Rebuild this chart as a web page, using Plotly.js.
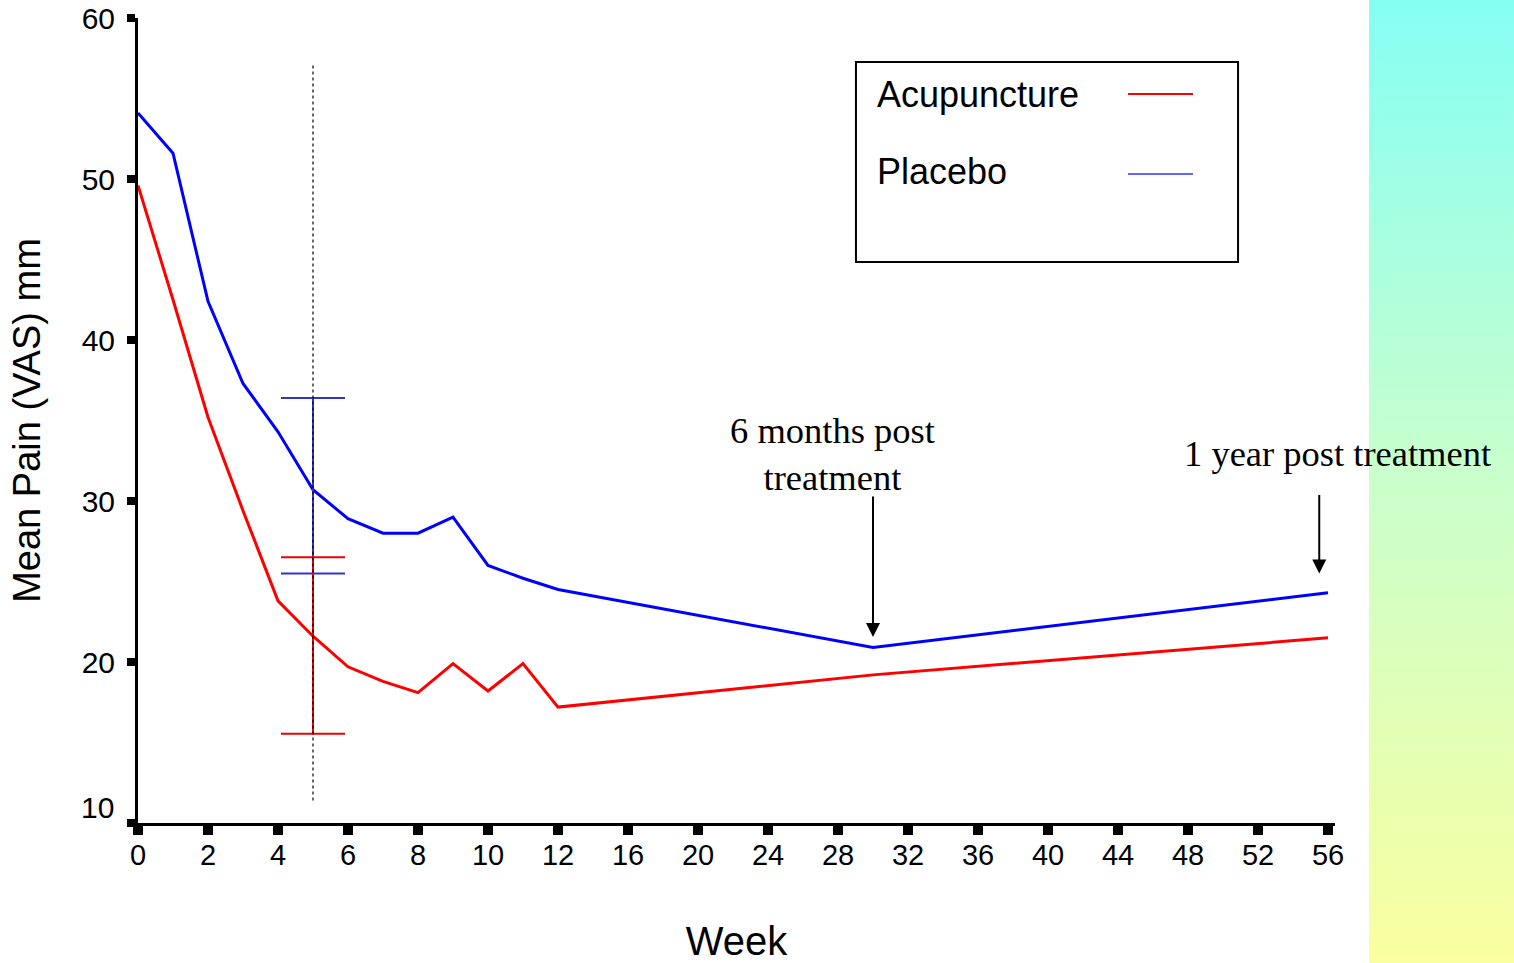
<!DOCTYPE html>
<html>
<head>
<meta charset="utf-8">
<script src="https://cdn.plot.ly/plotly-3.0.1.min.js"></script>
<style>
  html, body { margin: 0; padding: 0; background: #ffffff; }
  #wrap { position: relative; width: 1514px; height: 963px; overflow: hidden; }
  #strip { position: absolute; left: 1369px; top: 0; width: 145px; height: 963px;
           background: linear-gradient(to bottom, rgb(134,255,244), rgb(200,255,205) 48%, rgb(250,255,160)); z-index: 0; }
  #chart { position: absolute; left: 0; top: 0; width: 1514px; height: 963px; z-index: 1; }
</style>
</head>
<body>
<div id="wrap">
  <div id="strip"></div>
  <div id="chart"></div>
</div>
<script>
// ---- data ----
const weeks = [0, 1, 2, 3, 4, 5, 6, 7, 8, 9, 10, 11, 12, 30, 56];
const acupuncture = [49.6, 42.5, 35.2, 29.4, 23.8, 21.6, 19.7, 18.8, 18.1, 19.9, 18.2, 19.9, 17.2, 19.2, 21.5];
const placebo = [54.1, 51.6, 42.4, 37.3, 34.3, 30.7, 28.9, 28.0, 28.0, 29.0, 26.0, 25.2, 24.5, 20.9, 24.3];

const errWeek = [5];
const acuErrMean = [21.6];
const acuErrPlus = [4.9];
const acuErrMinus = [6.05];
const plaErrMean = [30.7];
const plaErrPlus = [5.7];
const plaErrMinus = [5.2];

const tickWeeks = [0, 2, 4, 6, 8, 10, 12, 16, 20, 24, 28, 32, 36, 40, 44, 48, 52, 56];
const tickLabels = ["0", "2", "4", "6", "8", "10", "12", "16", "20", "24", "28", "32", "36", "40", "44", "48", "52", "56"];
const yTickVals = [10, 20, 30, 40, 50, 60];
const yTickLabels = ["", "20", "30", "40", "50", "60"];

// Broken x scale of the original: 1 unit per week up to week 12, then 1 unit per 2 weeks.
function toPos(w) { return w <= 12 ? w : 12 + (w - 12) / 2; }

const sans = "Liberation Sans, Arial, sans-serif";
const serif = "Liberation Serif, Times New Roman, serif";

const traces = [
  {
    x: weeks.map(toPos), y: placebo, mode: "lines", name: "Placebo",
    line: { color: "#0000ff", width: 3 }, hoverinfo: "skip"
  },
  {
    x: weeks.map(toPos), y: acupuncture, mode: "lines", name: "Acupuncture",
    line: { color: "#ff0000", width: 3 }, hoverinfo: "skip"
  },
  {
    x: errWeek.map(toPos), y: plaErrMean, mode: "markers", marker: { size: 1, opacity: 0 },
    error_y: { type: "data", symmetric: false, array: plaErrPlus, arrayminus: plaErrMinus,
               color: "#3333cc", thickness: 2, width: 32 }, hoverinfo: "skip"
  },
  {
    x: errWeek.map(toPos), y: acuErrMean, mode: "markers", marker: { size: 1, opacity: 0 },
    error_y: { type: "data", symmetric: false, array: acuErrPlus, arrayminus: acuErrMinus,
               color: "#ee0000", thickness: 2, width: 32 }, hoverinfo: "skip"
  }
];

const layout = {
  width: 1514, height: 963,
  margin: { l: 138, r: 179, t: 18, b: 140, pad: 0 },
  paper_bgcolor: "rgba(0,0,0,0)",
  plot_bgcolor: "rgba(0,0,0,0)",
  showlegend: false,
  font: { family: sans, color: "#000000" },
  xaxis: {
    range: [0, 34.2], showgrid: false, zeroline: false,
    showline: true, linecolor: "#000000", linewidth: 3,
    tickmode: "array", tickvals: tickWeeks.map(toPos), ticktext: tickLabels,
    ticks: "outside", ticklen: 9, tickwidth: 10, tickcolor: "#000000",
    tickfont: { family: sans, size: 29, color: "#000000" },
    ticklabelstandoff: -5,
    title: { text: "Week", font: { family: sans, size: 40, color: "#000000" }, standoff: 64 }
  },
  yaxis: {
    range: [10, 60], showgrid: false, zeroline: false,
    showline: true, linecolor: "#000000", linewidth: 3,
    tickmode: "array", tickvals: yTickVals, ticktext: yTickLabels,
    ticks: "outside", ticklen: 8, tickwidth: 8, tickcolor: "#000000",
    tickfont: { family: sans, size: 30, color: "#000000" },
    ticklabelstandoff: 6,
    title: { text: "Mean Pain (VAS) mm", font: { family: sans, size: 38, color: "#000000" }, standoff: 30 }
  },
  shapes: [
    // dotted vertical marker at week 5
    { type: "line", xref: "x", yref: "y", x0: toPos(5), x1: toPos(5), y0: 11.4, y1: 57.1,
      line: { color: "#000000", width: 1.2, dash: "dot" } },
    // legend box
    { type: "rect", xref: "paper", yref: "paper", x0: 0.5998, x1: 0.919, y0: 0.6969, y1: 0.9453,
      line: { color: "#000000", width: 2 }, fillcolor: "rgba(255,255,255,0)" },
    // legend samples
    { type: "line", xref: "paper", yref: "paper", x0: 0.8271, x1: 0.8814, y0: 0.9056, y1: 0.9056,
      line: { color: "#ff0000", width: 2 } },
    { type: "line", xref: "paper", yref: "paper", x0: 0.8271, x1: 0.8814, y0: 0.8062, y1: 0.8062,
      line: { color: "#6464ff", width: 2 } }
  ],
  annotations: [
    { text: "10", xref: "paper", yref: "y", x: -0.0184, y: 10.95, xanchor: "right", yanchor: "middle",
      showarrow: false, font: { family: sans, size: 30, color: "#000000" } },
    { text: "Acupuncture", xref: "paper", yref: "paper", x: 0.6157, y: 0.9044, xanchor: "left", yanchor: "middle",
      showarrow: false, font: { family: sans, size: 36, color: "#000000" } },
    { text: "Placebo", xref: "paper", yref: "paper", x: 0.6157, y: 0.8093, xanchor: "left", yanchor: "middle",
      showarrow: false, font: { family: sans, size: 36, color: "#000000" } },
    { text: "6 months post<br>treatment", xref: "x", yref: "y", x: 19.83, y: 32.9, xanchor: "center", yanchor: "middle",
      showarrow: false, align: "center", font: { family: serif, size: 36.5, color: "#000000" } },
    { text: "1 year post treatment", xref: "paper", yref: "y", x: 1.0017, y: 32.95, xanchor: "center", yanchor: "middle",
      showarrow: false, font: { family: serif, size: 36.5, color: "#000000" } },
    { text: "", xref: "x", yref: "y", x: toPos(30), y: 21.55, showarrow: true, axref: "pixel", ayref: "pixel",
      ax: 0, ay: -142, arrowhead: 2, arrowsize: 1.4, arrowwidth: 2, arrowcolor: "#000000", standoff: 0 },
    { text: "", xref: "x", yref: "y", x: toPos(55.5), y: 25.5, showarrow: true, axref: "pixel", ayref: "pixel",
      ax: 0, ay: -80, arrowhead: 2, arrowsize: 1.4, arrowwidth: 2, arrowcolor: "#000000", standoff: 0 }
  ]
};

Plotly.newPlot("chart", traces, layout, { staticPlot: true, displayModeBar: false });
</script>
</body>
</html>
